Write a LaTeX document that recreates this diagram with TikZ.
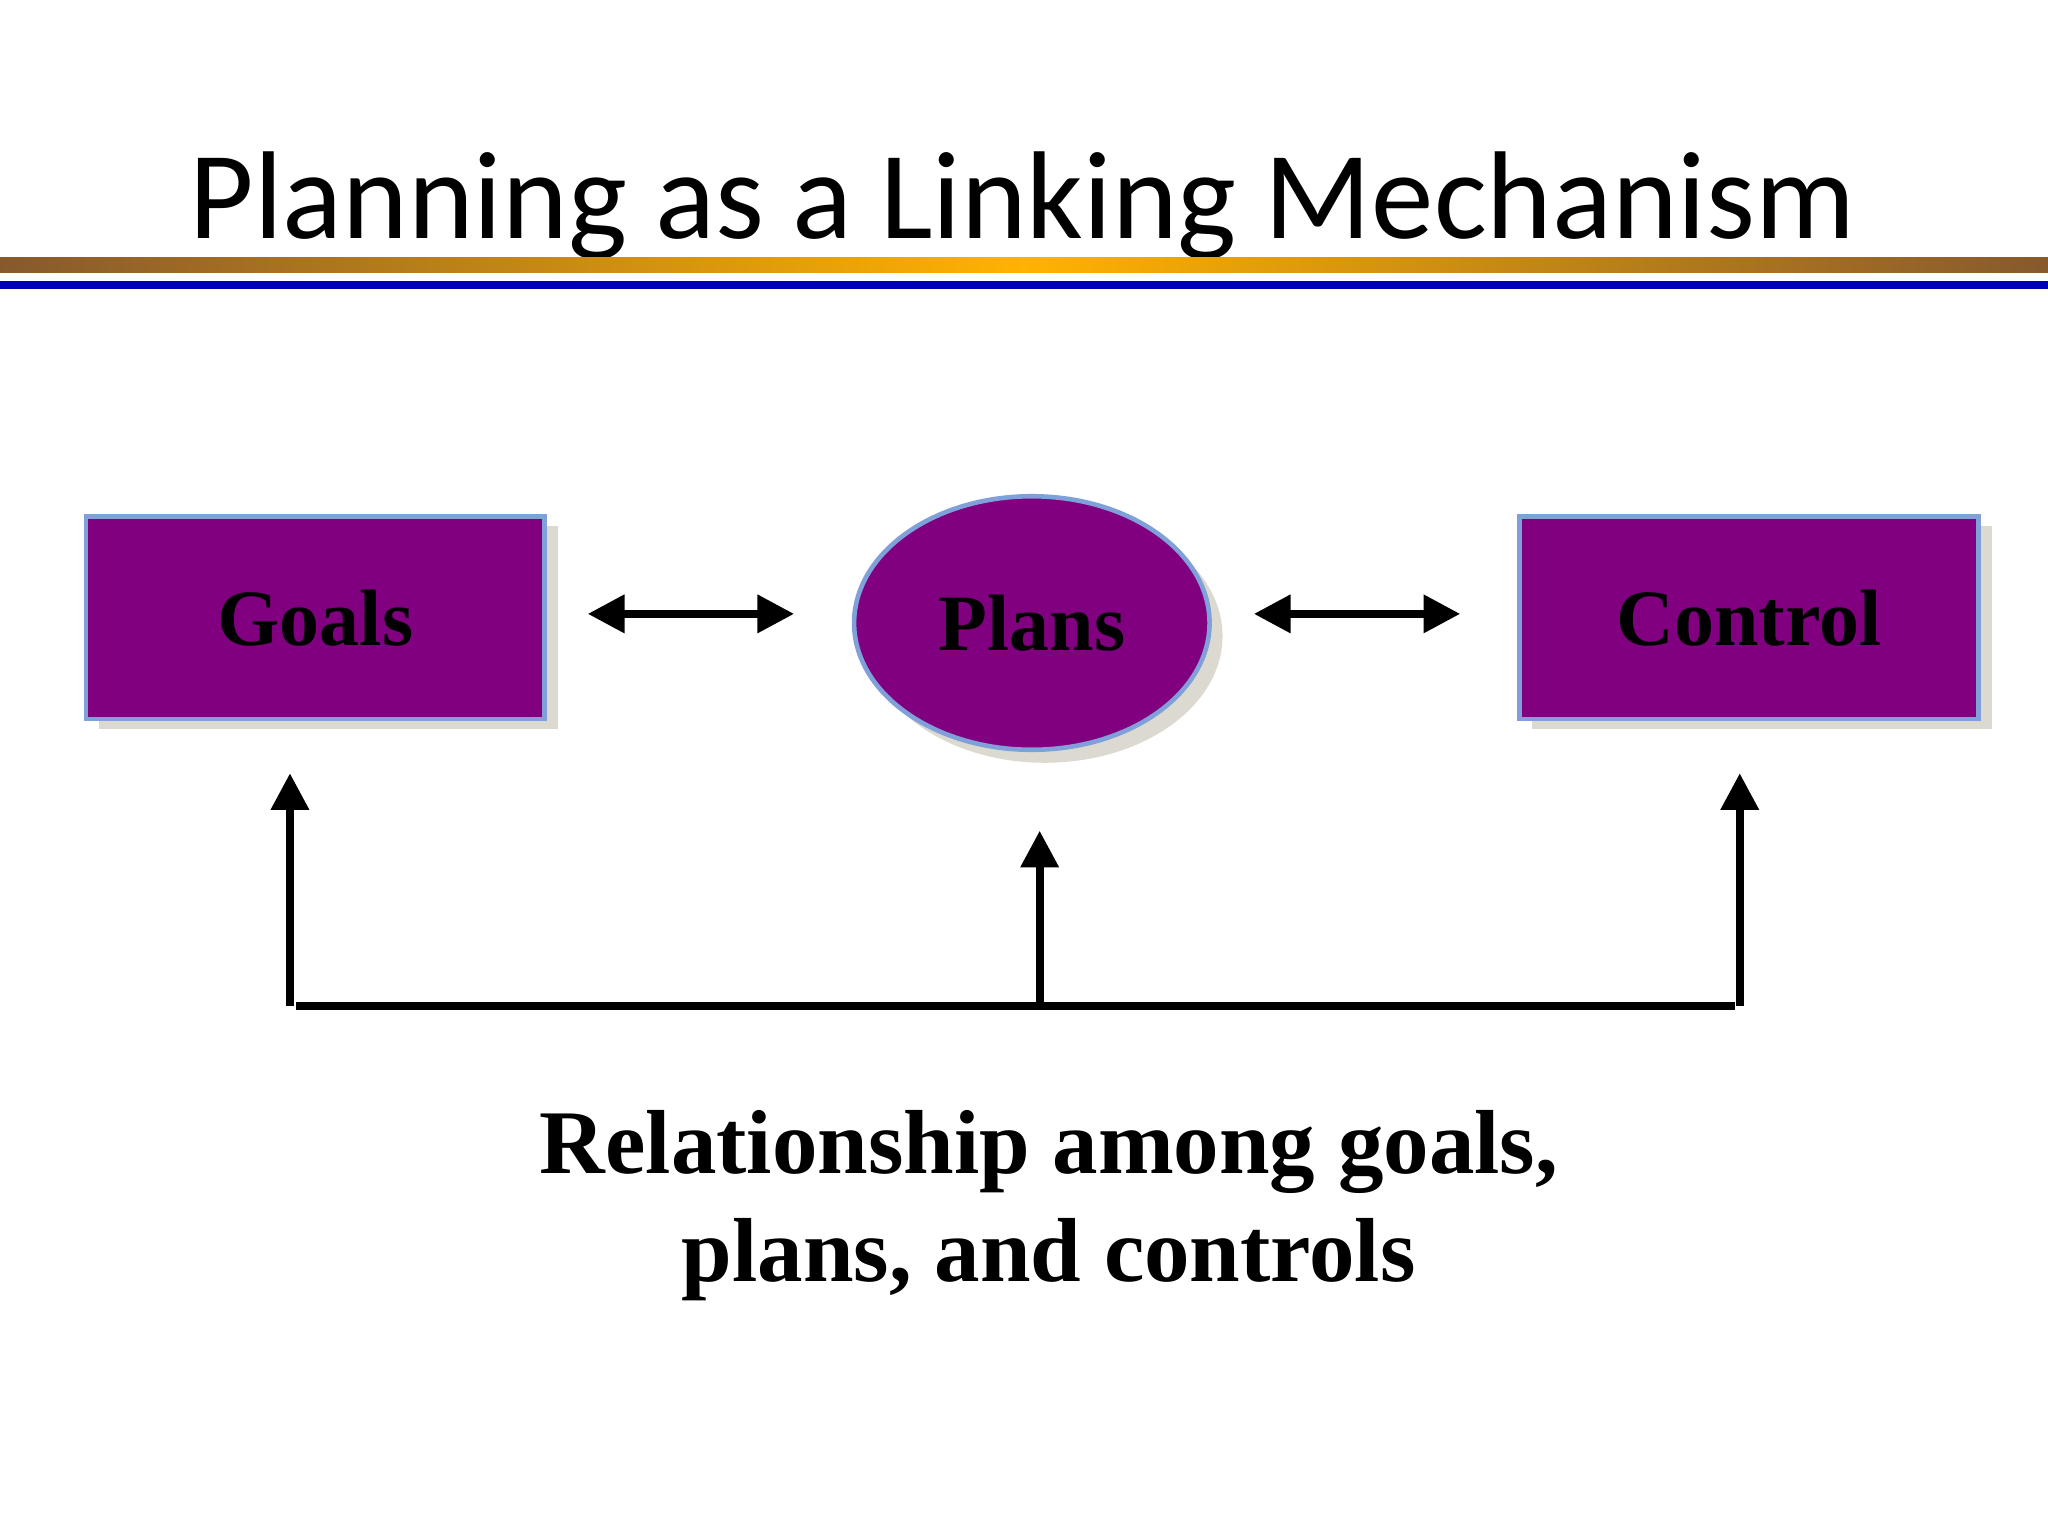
\documentclass[tikz,border=0pt]{standalone}
\usepackage{fontspec}
\setmainfont{Liberation Serif}
\newfontfamily\titlefont{Carlito}
\usetikzlibrary{arrows.meta,shapes.geometric}
\definecolor{purp}{HTML}{800080}
\definecolor{edgeb}{HTML}{7FA0D8}
\definecolor{shad}{HTML}{DCDAD0}
\begin{document}
\begin{tikzpicture}[x=0.01cm,y=-0.01cm,
  box/.style={draw=edgeb,line width=1pt,fill=purp,minimum width=3.51cm,minimum height=1.55cm,inner sep=0pt,font=\fontsize{17.4}{19}\selectfont\bfseries},
  conn/.style={line width=1.7pt},
  arr/.style={conn,-{Triangle[length=8pt,width=8pt]}},
  darr/.style={conn,{Triangle[length=8pt,width=8pt]}-{Triangle[length=8pt,width=8pt]}}]
\useasboundingbox (0,0) rectangle (1568,1176);
\fill[white] (0,0) rectangle (1568,1176);
\node[font=\titlefont\fontsize{27.2}{30}\selectfont] (title) at (783,158) {Planning as a Linking Mechanism};
\shade[left color=brown!70!black,right color=brown!70!black,middle color=orange!60!yellow] (0,197) rectangle (1568,209);
\fill[blue!70!black] (0,215) rectangle (1568,221);
% shadows
\fill[shad] (76,403) rectangle (427,558);
\fill[shad] (1173,403) rectangle (1525,558);
\fill[shad] (800,487) ellipse (136 and 97);
\node[box] (goals) at (241.5,473) {Goals};
\node[box] (control) at (1339,473) {Control};
\node[ellipse,draw=edgeb,line width=1pt,fill=purp,minimum width=2.72cm,minimum height=1.94cm,font=\fontsize{17.4}{19}\selectfont\bfseries] (plans) at (790,477) {\raisebox{-4pt}{Plans}};
\coordinate (a1) at (450,470); \coordinate (a2) at (608,470);
\coordinate (b1) at (960,470); \coordinate (b2) at (1118,470);
\draw[darr] (a1) -- (a2);
\draw[darr] (b1) -- (b2);
\coordinate (g0) at (222,770); \coordinate (g1) at (222,592);
\coordinate (p0) at (796,770); \coordinate (p1) at (796,636);
\coordinate (c0) at (1332,770); \coordinate (c1) at (1332,592);
\coordinate (h0) at (227,770); \coordinate (h1) at (1328,770);
\draw[arr] (g0) -- (g1);
\draw[arr] (p0) -- (p1);
\draw[arr] (c0) -- (c1);
\draw[conn] (h0) -- (h1);
\node[font=\fontsize{19.8}{23.5}\selectfont\bfseries,align=center] (cap) at (803,923) {Relationship among goals,\\plans, and controls};
\end{tikzpicture}
\end{document}
